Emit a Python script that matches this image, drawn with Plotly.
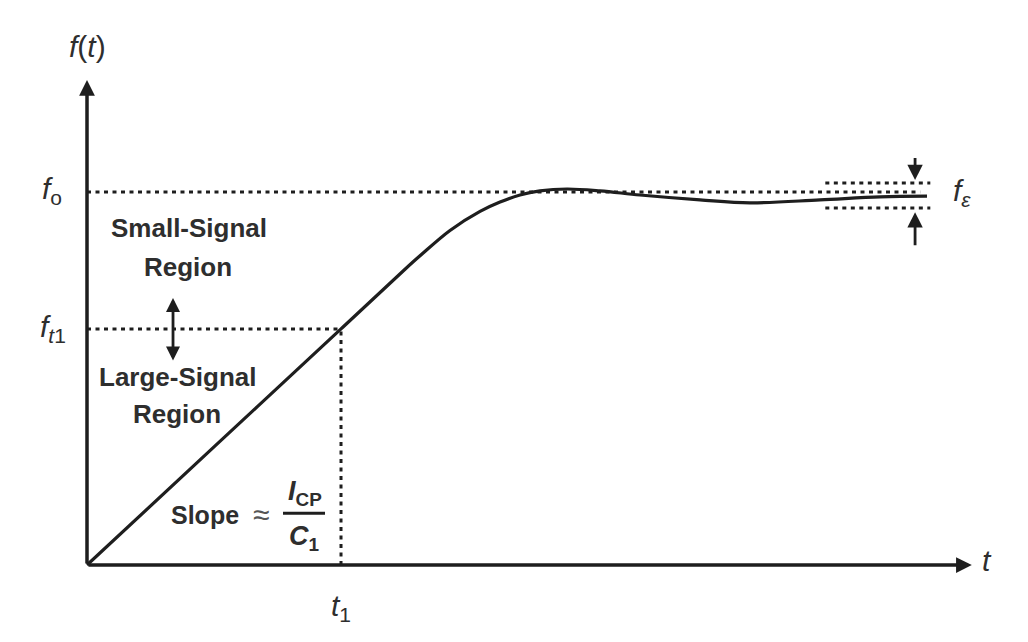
import plotly.graph_objects as go

# ---- data (conceptual units: t in time units, f normalised so f_o = 1) ----
t1 = 3.0
f_o = 1.0
f_t1 = 0.633
t_axis_end = 10.45
f_axis_end = 1.30
fo_line_end = 9.84
band_t = [8.72, 9.96]
band_f = [1.024, 0.957]
band_arrow_t = 9.78

curve_t = [0.0, 1.5, 3.0, 3.756, 3.933, 4.287, 4.642, 4.878, 5.114, 5.350, 5.669,
           6.059, 6.531, 7.240, 7.830, 8.657, 9.366, 9.921]
curve_f = [0.0, 0.3165, 0.633, 0.793, 0.829, 0.897, 0.948, 0.973, 0.992, 1.003, 1.008,
           1.003, 0.992, 0.979, 0.971, 0.979, 0.987, 0.989]

# ---- figure ----
W, H = 1020, 634
x_range = [-0.9330, 11.1137]
y_range = [-0.2064, 1.4933]

LINE = "#1e1e1e"
TEXT = "#2e2e2e"
DOT = "4px,4.5px"
FONT = "Liberation Sans, Arial, sans-serif"

fig = go.Figure()

def dotted(xs, ys):
    fig.add_trace(go.Scatter(x=xs, y=ys, mode="lines",
                             line=dict(color=LINE, width=3, dash=DOT),
                             hoverinfo="skip", showlegend=False))

# reference lines
dotted([0, fo_line_end], [f_o, f_o])
dotted([0, t1], [f_t1, f_t1])
dotted([t1, t1], [0, f_t1])
dotted(band_t, [band_f[0], band_f[0]])
dotted(band_t, [band_f[1], band_f[1]])

# response curve
fig.add_trace(go.Scatter(x=curve_t, y=curve_f, mode="lines",
                         line=dict(color=LINE, width=3.2, shape="spline", smoothing=1.0),
                         hoverinfo="skip", showlegend=False))

def arrow(x0, y0, x1, y1, both=False, width=3.5, size=0.9):
    fig.add_annotation(x=x1, y=y1, ax=x0, ay=y0, xref="x", yref="y",
                       axref="x", ayref="y", text="", showarrow=True,
                       arrowhead=2, arrowsize=size, arrowwidth=width,
                       arrowcolor=LINE, standoff=0, startstandoff=0,
                       arrowside="end+start" if both else "end",
                       startarrowhead=2, startarrowsize=size)

# axes
arrow(0, 0, t_axis_end, 0)
arrow(0, 0, 0, f_axis_end)
# f_eps arrows
arrow(band_arrow_t, 1.095, band_arrow_t, band_f[0] + 0.008, width=2.8, size=1.1)
arrow(band_arrow_t, 0.853, band_arrow_t, band_f[1] - 0.011, width=2.8, size=1.1)
# small/large signal double arrow
arrow(1.016, 0.544, 1.016, 0.716, both=True, width=2.8, size=1.0)

def label(x, y, text, size=28, color=TEXT, xanchor="center"):
    fig.add_annotation(x=x, y=y, xref="x", yref="y", text=text, showarrow=False,
                       font=dict(family=FONT, size=size, color=color),
                       xanchor=xanchor, yanchor="middle")

label(0.0, 1.391, "<i>f</i>(<i>t</i>)", size=30)
label(-0.413, f_o + 0.005, "<i>f</i><sub>o</sub>", size=30)
label(-0.402, f_t1, "<i>f</i><sub><i>t</i>1</sub>", size=30)
label(t1, -0.115, "<i>t</i><sub>1</sub>", size=30)
label(10.63, 0.012, "<i>t</i>", size=30)
label(10.33, f_o, "<i>f</i><sub><i>ε</i></sub>", size=30)

label(1.205, 0.903, "<b>Small-Signal</b>", size=26)
label(1.193, 0.799, "<b>Region</b>", size=26)
label(1.063, 0.504, "<b>Large-Signal</b>", size=26)
label(1.063, 0.405, "<b>Region</b>", size=26)

label(1.394, 0.134, "<b>Slope</b>", size=25)
label(2.055, 0.136, "≈", size=30, color="#555555")
label(2.575, 0.192, "<b><i>I</i><sub>CP</sub></b>", size=27)
label(2.563, 0.073, "<b><i>C</i><sub>1</sub></b>", size=27)
fig.add_trace(go.Scatter(x=[2.315, 2.811], y=[0.139, 0.139], mode="lines",
                         line=dict(color=LINE, width=3), hoverinfo="skip", showlegend=False))

fig.update_xaxes(visible=False, range=x_range, fixedrange=True)
fig.update_yaxes(visible=False, range=y_range, fixedrange=True)
fig.update_layout(width=W, height=H, margin=dict(l=0, r=0, t=0, b=0),
                  paper_bgcolor="white", plot_bgcolor="white", showlegend=False)

fig.write_html("out.html")
